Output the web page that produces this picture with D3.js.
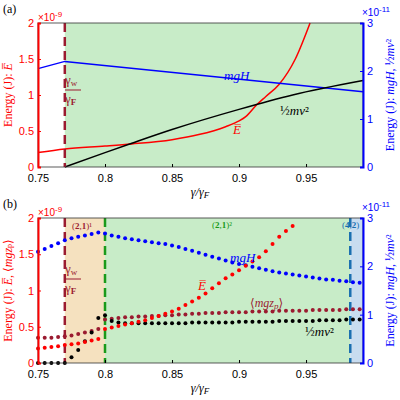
<!DOCTYPE html>
<html><head><meta charset="utf-8">
<script src="https://cdn.jsdelivr.net/npm/d3@7"></script>
<style>body{margin:0;background:#fff}text{font-family:"Liberation Sans",Arial,sans-serif}text.m{font-family:"Liberation Serif","DejaVu Serif",serif}</style>
</head><body><svg id="c" width="400" height="400"></svg>
<script>
// panel (a) curves (left axis in 1e-9 J, mgH on right axis in 1e-11 J)
const aEx = [0.75, 0.77, 0.8, 0.82, 0.85, 0.87, 0.89, 0.9, 0.905, 0.913, 0.92, 0.93, 0.942, 0.953];
const aE = [0.2, 0.25, 0.29, 0.32, 0.38, 0.45, 0.56, 0.64, 0.7, 0.86, 0.98, 1.15, 1.5, 2.0];
const aHx = [0.75, 0.77, 0.9925];
const aH = [2.05, 2.2, 1.57];
const aKx = [0.77, 0.8, 0.82, 0.85, 0.9, 0.94, 0.9925];
const aK = [0, 0.2, 0.33, 0.52, 0.8, 1.0, 1.2];

// panel (b) points
const bX = d3.range(49).map(i => +(0.75 + i * 0.005).toFixed(3));
const bH = [2.30,2.36,2.42,2.48,2.54,2.58,2.61,2.64,2.67,2.70,2.68,2.64,2.61,2.58,2.56,2.54,2.52,2.50,2.48,2.46,2.43,2.40,2.36,2.32,2.28,2.24,2.20,2.16,2.12,2.08,2.05,2.02,1.99,1.96,1.93,1.90,1.87,1.85,1.83,1.81,1.79,1.77,1.75,1.73,1.72,1.70,1.69,1.67,1.66];
const bE = [.20,.21,.22,.23,.25,.26,.27,.29,.31,.33,.47,.49,.51,.53,.55,.57,.59,.62,.65,.68,.71,.75,.80,.85,.90,.96,1.03,1.10,1.17,1.22,1.28,1.34,1.40,1.46,1.54,1.64,1.74,1.82,1.89];
const bZ = [.35,.35,.35,.36,.37,.38,.40,.42,.44,.47,.60,.61,.62,.63,.63,.64,.64,.65,.65,.66,.66,.67,.67,.68,.68,.69,.69,.69,.70,.70,.70,.70,.71,.71,.71,.71,.72,.72,.72,.72,.72,.73,.73,.73,.73,.73,.74,.74,.74];
const bK = [0,0,0,0,0,.08,.18,.30,.42,.62,.66,.58,.56,.55,.55,.55,.55,.55,.55,.55,.55,.55,.55,.56,.56,.56,.56,.56,.56,.56,.57,.57,.57,.57,.57,.57,.58,.58,.58,.58,.58,.58,.59,.59,.59,.59,.60,.60,.60];

const xTicks = [0.75, 0.8, 0.85, 0.9, 0.95];
const lTicks = [0, 0.5, 1, 1.5, 2];
const rTicks = [0, 1, 2, 3];

const svg = d3.select("#c");
const x = d3.scaleLinear().domain([0.75, 0.9925]).range([38, 363]);
const RED = "#ff0000", BLUE = "#0000ff", MAR = "#9b1b30", BLK = "#000";

function panel(top, bottom, tag) {
  const yl = d3.scaleLinear().domain([0, 2]).range([bottom, top]);
  const yr = d3.scaleLinear().domain([0, 3]).range([bottom, top]);
  const g = svg.append("g");
  const bg = g.append("g"), marks = g.append("g"), ax = g.append("g");
  g.append("text").attr("x", 3).attr("y", top - 10).attr("class", "m").attr("font-size", 12).text(tag);
  ax.append("rect").attr("x", 38).attr("y", top).attr("width", 325).attr("height", bottom - top)
    .attr("fill", "none").attr("stroke", "#333").attr("stroke-width", 0.8);
  ax.append("g").attr("transform", `translate(0,${bottom})`)
    .call(d3.axisBottom(x).tickValues(xTicks).tickFormat(d3.format("")).tickSize(-3).tickPadding(7))
    .call(a => a.select(".domain").remove()).selectAll("text").attr("font-size", 11);
  ax.append("g").attr("transform", "translate(38,0)")
    .call(d3.axisLeft(yl).tickValues(lTicks).tickFormat(d3.format("")).tickSize(-3).tickPadding(4))
    .call(a => a.select(".domain").attr("stroke", RED).attr("stroke-width", 2))
    .call(a => a.selectAll("line").attr("stroke", RED))
    .selectAll("text").attr("fill", RED).attr("font-size", 11);
  ax.append("g").attr("transform", "translate(363,0)")
    .call(d3.axisRight(yr).tickValues(rTicks).tickFormat(d3.format("")).tickSize(-3).tickPadding(4))
    .call(a => a.select(".domain").attr("stroke", BLUE).attr("stroke-width", 2))
    .call(a => a.selectAll("line").attr("stroke", BLUE))
    .selectAll("text").attr("fill", BLUE).attr("font-size", 11);
  ax.append("text").attr("x", 38).attr("y", top - 2).attr("fill", RED).attr("font-size", 10)
    .html('×10<tspan dy="-4" font-size="8">-9</tspan>');
  ax.append("text").attr("x", 362).attr("y", top - 7).attr("fill", BLUE).attr("font-size", 10)
    .html('×10<tspan dy="-4" font-size="8">-11</tspan>');
  ax.append("text").attr("class", "m").attr("x", 200).attr("y", bottom + 29).attr("text-anchor", "middle")
    .attr("font-size", 12).attr("font-style", "italic").html('γ/γ<tspan font-size="9" dy="2">F</tspan>');
  return { yl, yr, bg, marks, ax, top, bottom };
}

function vdash(p, xv, col) {
  p.marks.append("line").attr("x1", x(xv)).attr("x2", x(xv)).attr("y1", p.top).attr("y2", p.bottom)
    .attr("stroke", col).attr("stroke-width", 2.5).attr("stroke-dasharray", "9,5");
}
function band(p, x0, x1, col) {
  p.bg.append("rect").attr("x", x(x0)).attr("width", x(x1) - x(x0)).attr("y", p.top).attr("height", p.bottom - p.top).attr("fill", col);
}
function txt(p, xx, yy, col, html, fs, rot) {
  const t = p.ax.append("text").attr("class", "m").attr("fill", col).attr("font-size", fs || 13).html(html);
  if (rot) t.attr("transform", `translate(${xx},${yy}) rotate(-90)`).attr("text-anchor", "middle");
  else t.attr("x", xx).attr("y", yy);
}
function gfrac(p, xx, yy) {
  p.ax.append("text").attr("class", "m").attr("x", xx).attr("y", yy).attr("fill", MAR).attr("font-size", 13).html('γ<tspan font-size="9" dy="2">w</tspan>');
  p.ax.append("line").attr("x1", xx).attr("x2", xx + 16).attr("y1", yy + 6).attr("y2", yy + 6).attr("stroke", MAR);
  p.ax.append("text").attr("class", "m").attr("x", xx).attr("y", yy + 19).attr("fill", MAR).attr("font-size", 13).html('γ<tspan font-size="9" dy="2" font-weight="bold">F</tspan>');
}
function ylabels(p) {
  const mid = (p.top + p.bottom) / 2;
  txt(p, 12, mid, RED, p.lab, 12, true);
  txt(p, 394, mid, BLUE, 'Energy (J): <tspan font-style="italic">mgH</tspan>, ½<tspan font-style="italic">mv</tspan>²', 12, true);
}

// panel a
const pa = panel(23, 167, "(a)");
band(pa, 0.77, 0.9925, "#c8ecc8");
const lineOf = (xs, ys, s) => d3.line().curve(d3.curveMonotoneX).x((d, i) => x(xs[i])).y(d => s(d))(ys);
pa.marks.append("path").attr("d", lineOf(aEx, aE, pa.yl)).attr("fill", "none").attr("stroke", RED).attr("stroke-width", 1.5);
pa.marks.append("path").attr("d", d3.line().x((d, i) => x(aHx[i])).y(d => pa.yr(d))(aH)).attr("fill", "none").attr("stroke", BLUE).attr("stroke-width", 1.5);
pa.marks.append("path").attr("d", lineOf(aKx, aK, pa.yl)).attr("fill", "none").attr("stroke", BLK).attr("stroke-width", 1.5);
vdash(pa, 0.77, MAR);
gfrac(pa, 65, 84);
txt(pa, 224, 80, BLUE, '<tspan font-style="italic">mgH</tspan>');
txt(pa, 280, 115, BLK, '½<tspan font-style="italic">mv</tspan>²');
txt(pa, 233, 134, RED, '<tspan font-style="italic">E̅</tspan>');
pa.lab = 'Energy (J): <tspan font-style="italic">E̅</tspan>';
ylabels(pa);

// panel b
const pb = panel(218, 363, "(b)");
band(pb, 0.77, 0.8, "#f5e1bf");
band(pb, 0.8, 0.983, "#c8ecc8");
band(pb, 0.983, 0.9925, "#c8dcf0");
vdash(pb, 0.77, MAR); vdash(pb, 0.8, "#1a9a1a"); vdash(pb, 0.983, "#1a6fb0");
function dots(ys, s, col) {
  pb.marks.append("g").selectAll("circle").data(ys).join("circle")
    .attr("cx", (d, i) => x(bX[i])).attr("cy", d => s(d)).attr("r", 2).attr("fill", col);
}
dots(bH, pb.yr, BLUE); dots(bZ, pb.yl, MAR); dots(bK, pb.yl, BLK); dots(bE, pb.yl, RED);
gfrac(pb, 65, 273);
txt(pb, 72, 229, MAR, '(<tspan font-weight="bold">2</tspan>,<tspan font-weight="bold">1</tspan>)¹', 9);
txt(pb, 212, 228, "#1a9a1a", '(<tspan font-weight="bold">2</tspan>,<tspan font-weight="bold">1</tspan>)²', 9);
txt(pb, 342, 228, "#1a6fb0", '(<tspan font-weight="bold">4</tspan>,<tspan font-weight="bold">2</tspan>)', 9);
txt(pb, 230, 262, BLUE, '<tspan font-style="italic">mgH</tspan>');
txt(pb, 198, 290, RED, '<tspan font-style="italic">E̅</tspan>');
txt(pb, 250, 307, MAR, '⟨<tspan font-style="italic">mgz</tspan><tspan font-size="9" dy="2" font-style="italic">p</tspan><tspan dy="-2">⟩</tspan>', 12);
txt(pb, 305, 336, BLK, '½<tspan font-style="italic">mv</tspan>²');
pb.lab = 'Energy (J): <tspan font-style="italic">E̅</tspan>, ⟨<tspan font-style="italic">mgz</tspan><tspan font-size="8">p</tspan>⟩';
ylabels(pb);
</script></body></html>
